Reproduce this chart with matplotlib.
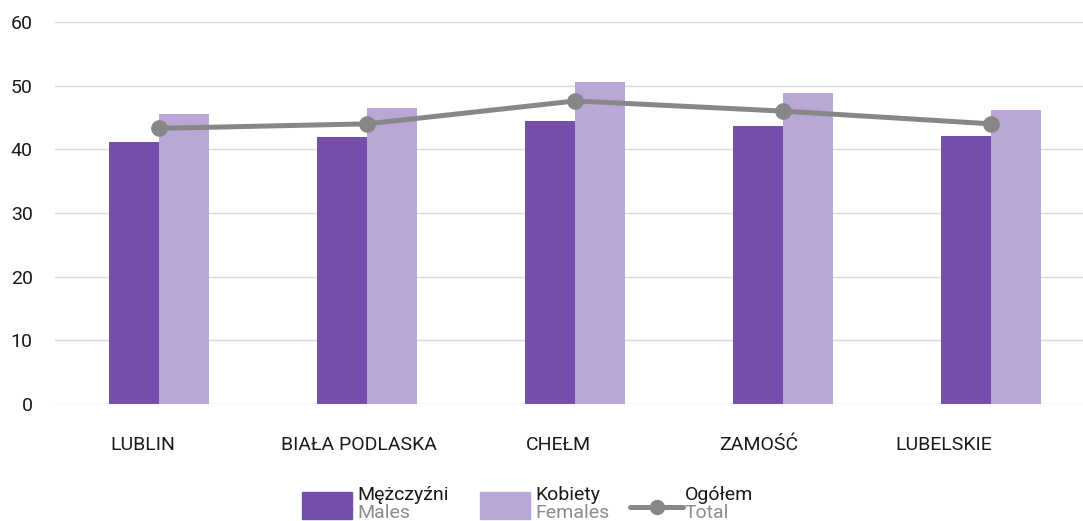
import matplotlib
matplotlib.use("Agg")
import matplotlib.pyplot as plt
import numpy as np
from matplotlib.patches import Rectangle
from matplotlib.lines import Line2D

plt.rcParams["font.family"] = ["Roboto", "DejaVu Sans"]

categories = ["LUBLIN", "BIAŁA PODLASKA", "CHEŁM", "ZAMOŚĆ", "LUBELSKIE"]
males = [41.1, 41.9, 44.4, 43.6, 42.1]
females = [45.5, 46.5, 50.5, 48.8, 46.2]
total = [43.3, 44.0, 47.6, 46.0, 44.0]
yticks = [0, 10, 20, 30, 40, 50, 60]

C_M = "#7450ac"
C_F = "#b9a7d6"
C_T = "#878787"
C_GRID = "#d9d9d9"

W, H = 1083, 521
fig = plt.figure(figsize=(W / 100, H / 100), dpi=100)
ax = fig.add_axes([55 / W, 1 - 404 / H, 1 - 55 / W, (404 - 22) / H])

x = np.arange(len(categories))
bw = 0.24
ax.bar(x - bw / 2, males, bw, color=C_M, zorder=2)
ax.bar(x + bw / 2, females, bw, color=C_F, zorder=2)
ax.plot(x, total, color=C_T, lw=3.6, marker="o", ms=11, zorder=3,
        solid_capstyle="round")

ax.set_xlim(-0.5, 4.44)
ax.set_ylim(0, 60)
ax.set_yticks(yticks)
ax.yaxis.grid(True, color=C_GRID, lw=1)
ax.set_axisbelow(True)
for sp in ax.spines.values():
    sp.set_visible(False)
ax.tick_params(axis="y", length=0, pad=16, labelsize=14, labelcolor="#1a1a1a")
ax.set_xticks([])

# category labels sit slightly left of the bar pairs in the original
lab_off = [-0.08, -0.04, -0.08, -0.12, -0.23]
for i, (c, d) in enumerate(zip(categories, lab_off)):
    ax.text(i + d, -6.4, c, ha="center", va="center", fontsize=14,
            color="#1a1a1a")

# legend, drawn by hand in pixel space
lg = fig.add_axes([0, 0, 1, 60 / H])
lg.set_xlim(0, W)
lg.set_ylim(60, 0)
lg.axis("off")
items = [("Mężczyźni", "Males", C_M, 302), ("Kobiety", "Females", C_F, 480),
         ("Ogółem", "Total", None, 630)]
for top, bot, col, x0 in items:
    if col:
        lg.add_patch(Rectangle((x0, 31), 50, 27, color=col))
    else:
        lg.add_line(Line2D([x0, x0 + 53], [46, 46], color=C_T, lw=3.6,
                           solid_capstyle="round"))
        lg.plot([x0 + 27], [46], "o", color=C_T, ms=10)
    lg.text(x0 + 55, 34, top, fontsize=14, color="#1a1a1a", va="center")
    lg.text(x0 + 55, 52, bot, fontsize=14, color="#8c8c8c", va="center")

fig.savefig("out.png", dpi=100)
